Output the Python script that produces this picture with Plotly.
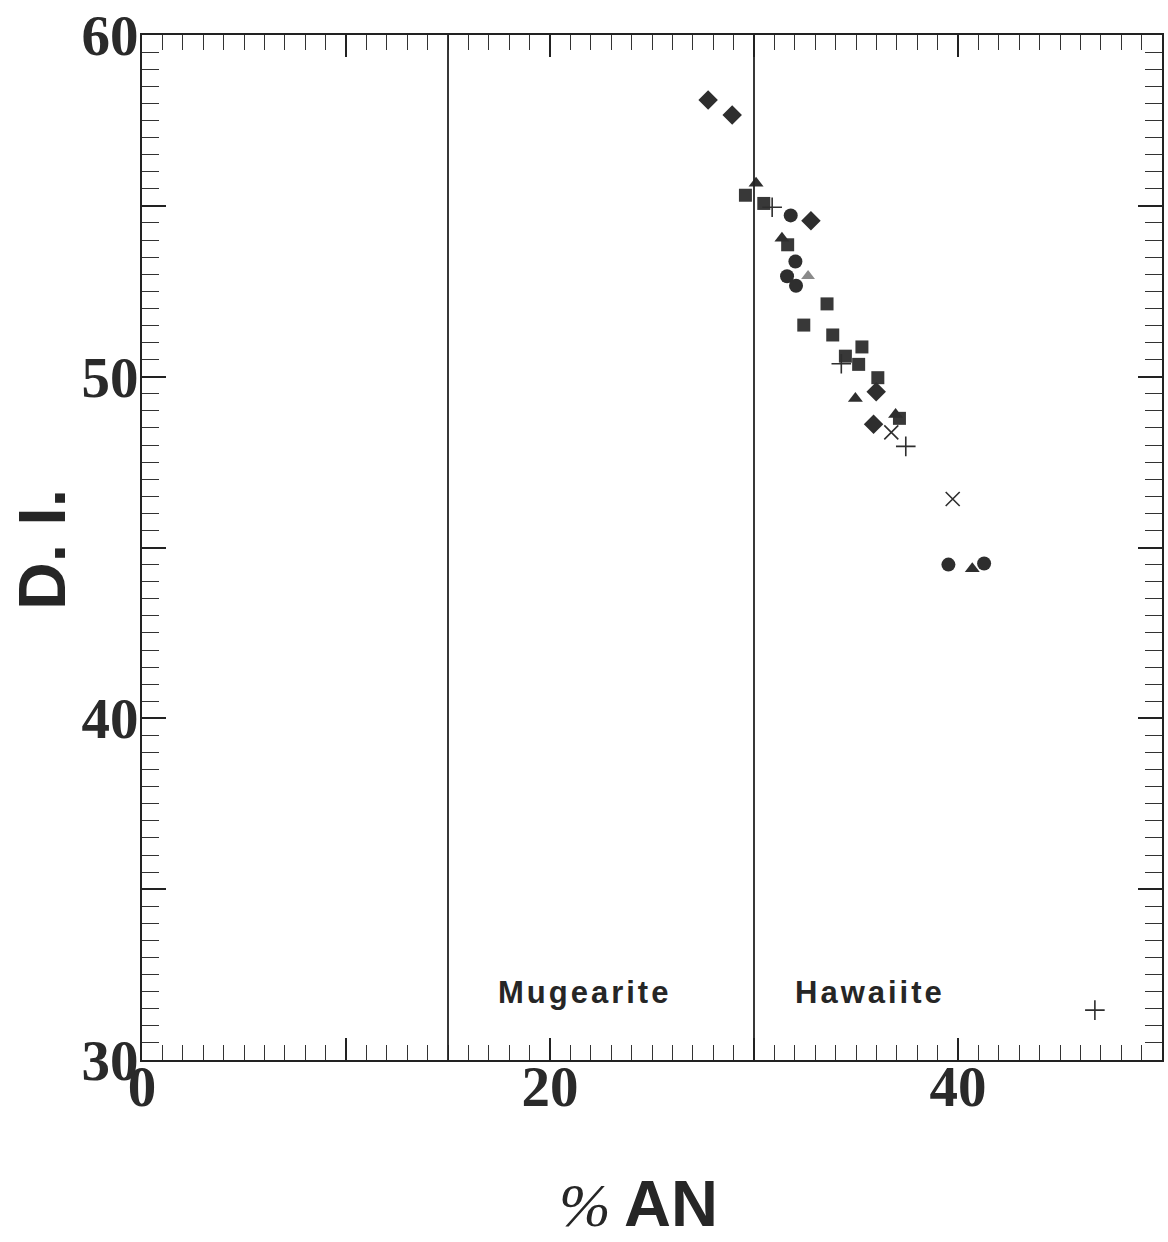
import plotly.graph_objects as go

# ---- data ----
diamond_x = [27.75, 28.93, 32.79, 35.99, 35.86]
diamond_y = [58.10, 57.66, 54.56, 49.56, 48.61]

circle_x = [31.80, 32.03, 31.62, 32.06, 39.53, 41.28]
circle_y = [54.72, 53.37, 52.94, 52.66, 44.50, 44.53]

triangle_x = [30.10, 31.37, 34.97, 40.70, 36.94]
triangle_y = [55.66, 54.05, 49.36, 44.38, 48.89]

gray_triangle_x = [32.65]
gray_triangle_y = [52.95]

square_x = [29.58, 30.48, 31.65, 33.58, 32.44, 33.86, 35.29, 34.48, 35.13, 36.07, 37.13]
square_y = [55.31, 55.07, 53.86, 52.13, 51.51, 51.22, 50.87, 50.60, 50.36, 49.97, 48.78]

plus_x = [30.89, 34.28, 37.44, 46.71]
plus_y = [54.96, 50.38, 47.96, 31.46]

cross_x = [36.73, 39.74]
cross_y = [48.37, 46.42]

boundaries = [15, 30]
field_labels = ["Mugearite", "Hawaiite"]
field_label_x = [21.67, 35.71]
field_label_y = 31.98

x_tickvals = [0, 10, 20, 30, 40, 50]
x_ticktext = ["0", "", "20", "", "40", ""]
y_tickvals = [30, 35, 40, 45, 50, 55, 60]
y_ticktext = ["30", "", "40", "", "50", "", "60"]

INK = "#2e2e2e"

fig = go.Figure()

def add(xs, ys, symbol, size, color=INK, lw=0):
    fig.add_trace(go.Scatter(
        x=xs, y=ys, mode="markers", showlegend=False, hoverinfo="skip",
        marker=dict(symbol=symbol, size=size, color=color,
                    line=dict(width=lw, color=color))))

add(square_x, square_y, "square", 13, "#383838")
add(diamond_x, diamond_y, "diamond", 15)
add(circle_x, circle_y, "circle", 14)
add(triangle_x, triangle_y, "triangle-up", 13)
add(gray_triangle_x, gray_triangle_y, "triangle-up", 12, "#8a8a8a")
add(plus_x, plus_y, "cross-thin", 14, INK, 1.6)
add(cross_x, cross_y, "x-thin", 14, INK, 1.6)

for b in boundaries:
    fig.add_shape(type="line", x0=b, x1=b, y0=30, y1=60, xref="x", yref="y",
                  line=dict(color="#222", width=1.8))

label_font = dict(family="Liberation Sans, sans-serif", size=31, color="#262626", weight="bold")
for t, lx in zip(field_labels, field_label_x):
    fig.add_annotation(x=lx, y=field_label_y, xref="x", yref="y",
                       text="<span style='letter-spacing:3px'>" + t + "</span>",
                       showarrow=False, font=label_font, xanchor="center", yanchor="middle")

# axis titles
fig.add_annotation(x=-0.098, y=0.4976, xref="paper", yref="paper", text="<b>D. I.</b>",
                   textangle=-90, showarrow=False, xanchor="center", yanchor="middle",
                   font=dict(family="Liberation Sans, sans-serif", size=66, color="#262626"))
fig.add_annotation(x=0.4345, y=-0.1414, xref="paper", yref="paper", text="<i>%</i>",
                   showarrow=False, xanchor="center", yanchor="middle",
                   font=dict(family="Liberation Serif, serif", size=62, color="#262626"))
fig.add_annotation(x=0.5186, y=-0.1404, xref="paper", yref="paper", text="<b>AN</b>",
                   showarrow=False, xanchor="center", yanchor="middle",
                   font=dict(family="Liberation Sans, sans-serif", size=65, color="#262626"))

tickfont = dict(family="Liberation Serif, serif", size=57, color="#2a2a2a", weight="bold")

fig.update_xaxes(range=[0, 50], tickvals=x_tickvals, ticktext=x_ticktext,
                 ticks="inside", ticklen=22, tickwidth=1.6, tickcolor="#222",
                 minor=dict(dtick=1, ticks="inside", ticklen=15, tickwidth=1.4, tickcolor="#333"),
                 showline=True, linecolor="#222", linewidth=2, mirror="ticks",
                 showgrid=False, zeroline=False, tickfont=tickfont, ticklabelstandoff=-24,
                 ticklabeloverflow="allow")
fig.update_yaxes(range=[30, 60], tickvals=y_tickvals, ticktext=y_ticktext,
                 ticks="inside", ticklen=24, tickwidth=1.6, tickcolor="#222",
                 minor=dict(dtick=0.5, ticks="inside", ticklen=17, tickwidth=1.4, tickcolor="#333"),
                 showline=True, linecolor="#222", linewidth=2, mirror="ticks",
                 showgrid=False, zeroline=False, tickfont=tickfont, ticklabelstandoff=-10,
                 ticklabeloverflow="allow")

fig.update_layout(width=1168, height=1242, plot_bgcolor="white", paper_bgcolor="white",
                  margin=dict(l=142, r=4, t=31, b=182), showlegend=False)

fig.write_html("out.html")
